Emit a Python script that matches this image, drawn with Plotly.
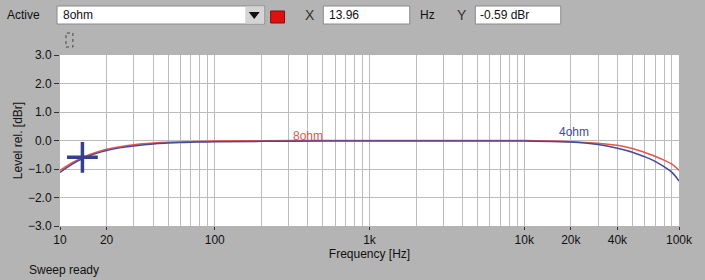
import plotly.graph_objects as go

# ---- data ----
freq = [10, 12, 14, 17, 20, 25, 30, 40, 50, 60, 70, 100, 200, 500, 1000, 2000, 5000,
        10000, 20000, 30000, 40000, 50000, 60000, 70000, 80000, 90000, 100000]
level_8ohm = [-1.05, -0.78, -0.59, -0.42, -0.31, -0.21, -0.15, -0.09, -0.06, -0.05, -0.04,
              -0.02, -0.01, 0.0, 0.0, 0.0, 0.0, 0.0, -0.04, -0.10, -0.17, -0.28, -0.42,
              -0.55, -0.69, -0.83, -1.05]
level_4ohm = [-1.12, -0.83, -0.63, -0.46, -0.35, -0.25, -0.19, -0.12, -0.09, -0.07, -0.06,
              -0.04, -0.03, -0.02, -0.02, -0.02, -0.02, -0.02, -0.05, -0.14, -0.27, -0.41,
              -0.57, -0.73, -0.92, -1.12, -1.42]
cursor_x = [13.96]
cursor_y = [-0.59]

x_tickvals = [10, 20, 100, 1000, 10000, 20000, 40000, 100000]
x_ticktext = ["10", "20", "100", "1k", "10k", "20k", "40k", "100k"]
x_minor = [m * 10 ** d for d in range(1, 5) for m in range(1, 10)] + [100000]
y_tickvals = [3, 2, 1, 0, -1, -2, -3]

# ---- layout geometry (pixels) ----
W, H = 705, 280
L, R, T, B = 60, 22, 55, 54
PW, PH = W - L - R, H - T - B


def px(x):
    return (x - L) / PW


def py(y):
    return (H - B - y) / PH


RED = "#e8544c"
BLUE = "#48489a"
BG = "#b4b4b4"
GRID = "#bcbcbc"
FONT = "Liberation Sans, Arial, sans-serif"

fig = go.Figure()
fig.add_trace(go.Scatter(x=freq, y=level_8ohm, mode="lines", name="8ohm",
                         line=dict(color=RED, width=1.5), line_shape="spline"))
fig.add_trace(go.Scatter(x=freq, y=level_4ohm, mode="lines", name="4ohm",
                         line=dict(color=BLUE, width=1.5), line_shape="spline"))
fig.add_trace(go.Scatter(x=cursor_x, y=cursor_y, mode="markers",
                         marker=dict(symbol="cross-thin", size=22,
                                     line=dict(color="#34408f", width=3.5))))

shapes = []
annotations = []


def box(x0, y0, x1, y1, fill="white", line="#8a8a8a", dash="solid"):
    shapes.append(dict(type="rect", xref="paper", yref="paper",
                       x0=px(x0), x1=px(x1), y0=py(y1), y1=py(y0),
                       fillcolor=fill, line=dict(color=line, width=1, dash=dash),
                       layer="above"))


def text(x, y, s, anchor="left", color="#111111", size=12):
    annotations.append(dict(xref="paper", yref="paper", x=px(x), y=py(y),
                            text=s, showarrow=False, xanchor=anchor, yanchor="middle",
                            font=dict(family=FONT, size=size, color=color)))


# top control bar
text(5, 15, "Active")
box(57, 6, 266, 24)
text(61, 15, "8ohm")
box(247, 7, 265, 23, fill="#d4d4d4", line="#d4d4d4")
shapes.append(dict(type="path", xref="paper", yref="paper",
                   path=f"M {px(250)} {py(12)} L {px(261)} {py(12)} L {px(255.5)} {py(19)} Z",
                   fillcolor="#111111", line=dict(width=0)))
box(272, 11, 286, 23, fill="#e01010", line="#7a1010")
text(312, 15, "X", anchor="center", color="#333333", size=14)
box(325, 6, 412, 24)
text(329, 15, "13.96")
text(420, 15, "Hz")
text(465, 15, "Y", anchor="center", color="#333333", size=14)
box(478, 6, 564, 24)
text(481, 15, "-0.59 dBr")
box(66, 33, 73, 47, fill=BG, line="#444444", dash="dot")

# curve labels
text(310, 136, "8ohm", anchor="center", color=RED, size=12)
text(577, 132, "4ohm", anchor="center", color=BLUE, size=12)

# status
text(27, 270, "Sweep ready", size=12)

fig.update_layout(
    width=W, height=H,
    margin=dict(l=L, r=R, t=T, b=B),
    paper_bgcolor=BG, plot_bgcolor="white",
    showlegend=False,
    font=dict(family=FONT, size=12, color="#111111"),
    shapes=shapes, annotations=annotations,
    xaxis=dict(type="log", range=[1, 5], tickvals=x_tickvals, ticktext=x_ticktext,
               ticks="outside", ticklen=3, tickcolor="#333333",
               showgrid=False, zeroline=False, showline=False,
               minor=dict(tickvals=x_minor, showgrid=True, gridcolor=GRID,
                          gridwidth=1, ticks=""),
               title=dict(text="Frequency [Hz]", standoff=0,
                          font=dict(family=FONT, size=12))),
    yaxis=dict(range=[-3, 3], tickvals=y_tickvals, tickformat=".1f",
               ticks="outside", ticklen=5, tickcolor="#333333",
               showgrid=True, gridcolor=GRID, gridwidth=1,
               zeroline=False, showline=False,
               title=dict(text="Level rel. [dBr]", standoff=2,
                          font=dict(family=FONT, size=12))),
)

fig.write_html("out.html")
